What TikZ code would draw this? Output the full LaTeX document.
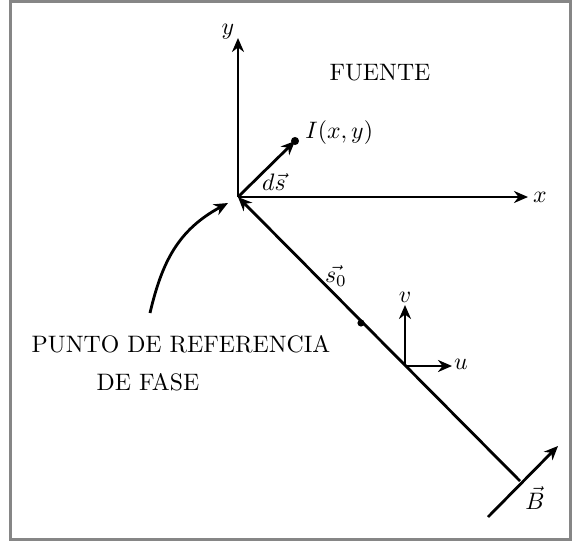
\documentclass[tikz,border=0pt]{standalone}
\usetikzlibrary{arrows.meta}
\begin{document}
\begin{tikzpicture}[x=1pt,y=-1pt,
  every node/.style={font=\fontsize{10}{12}\selectfont,inner sep=0pt,scale=2.38,transform shape},
  vec/.style={line width=2.8pt,-{Stealth[length=14pt,width=12pt,inset=4.5pt]}},
  dot/.style={circle,fill=black,inner sep=0pt,minimum size=3.4pt}]
\useasboundingbox (0,0) rectangle (572,541);
\draw[line width=3pt,gray!95] (10.5,1.5) rectangle (570.5,539.5);
% coordinates
\coordinate (O) at (238,197);
\coordinate (Ytip) at (238,38);
\coordinate (Xtip) at (528,197);
\node[dot] (I) at (295,141) {};
\node[dot,minimum size=3pt] (P) at (361,323) {};
\coordinate (Q) at (405,366);
\coordinate (E) at (520,481);
\coordinate (Utip) at (452,366);
\coordinate (Vtip) at (405,305);
\coordinate (B1) at (488,517);
\coordinate (B2) at (558,446);
\coordinate (C1) at (150,313);
\coordinate (C2) at (228,203);
% axes
\draw[vec] (O) -- (Ytip);
\draw[vec] (O) -- (Xtip);
\draw[vec] (O) -- (I.center);
\draw[vec] (E) -- (O);
\draw[vec] (Q) -- (Utip);
\draw[vec] (Q) -- (Vtip);
\draw[vec] (B1) -- (B2);
\draw[vec] (C1) .. controls (162,262) and (178,230) .. (C2);
% labels
\node (ly) at (228,32) {$y$};
\node (lx) at (540,197) {$x$};
\node[anchor=west] (lI) at (305,133) {$I(x,y)$};
\node (lds) at (274,182) {$d\vec{s}$};
\node (lF) at (380,73) {FUENTE};
\node (ls) at (336,276) {$\vec{s_0}$};
\node (lv) at (405,297) {$v$};
\node (lu) at (461,364) {$u$};
\node (lB) at (535,498) {$\vec{B}$};
\node (t1) at (181,344) {PUNTO DE REFERENCIA};
\node (t2) at (148,382) {DE FASE};
\end{tikzpicture}
\end{document}
